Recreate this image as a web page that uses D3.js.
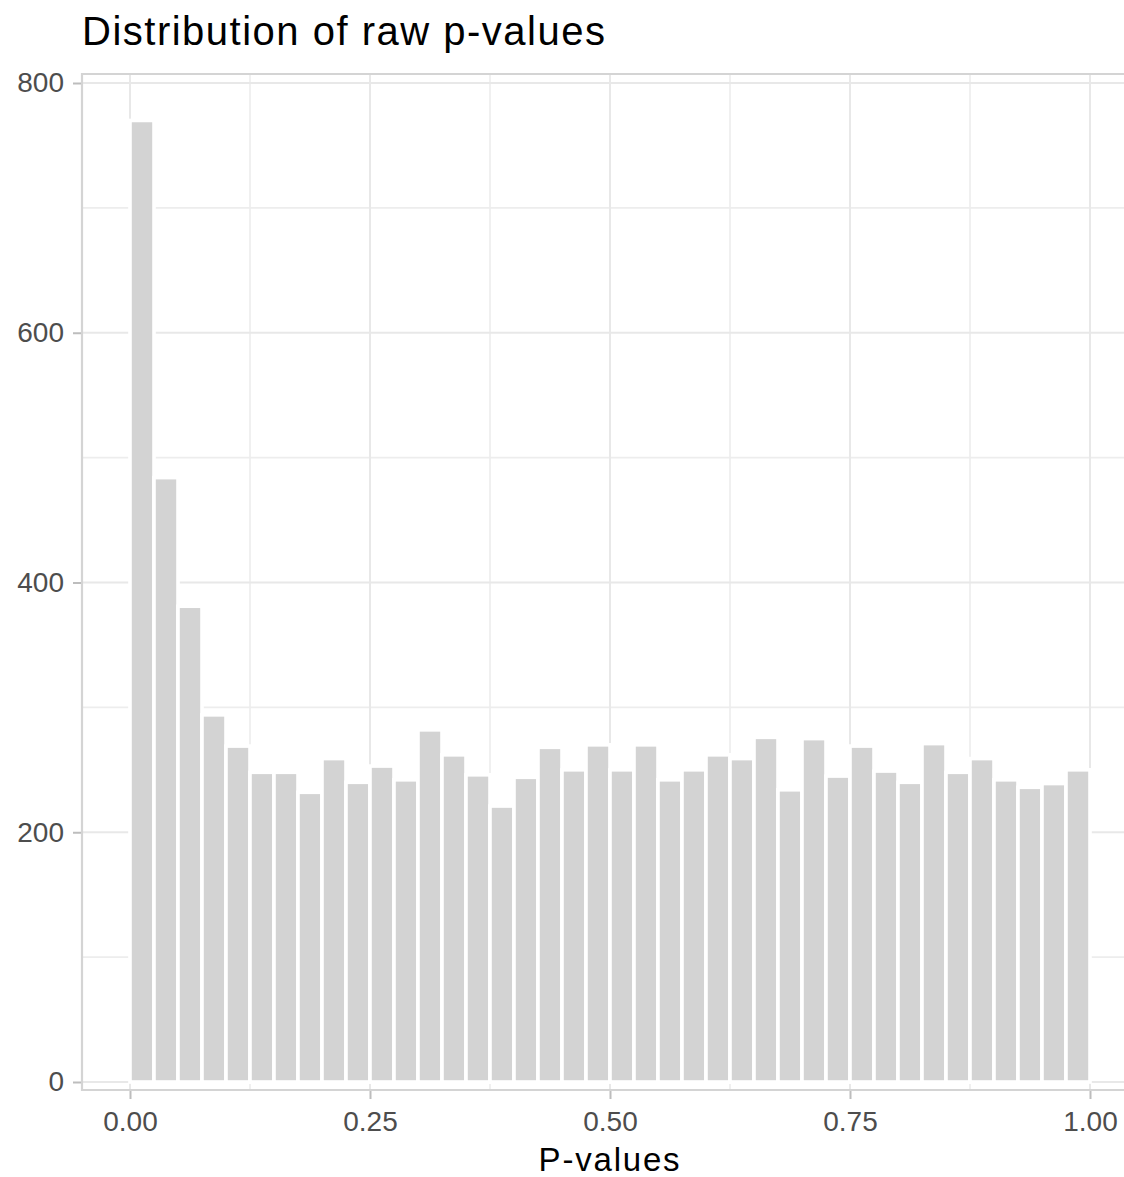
<!DOCTYPE html>
<html>
<head>
<meta charset="utf-8">
<script src="https://d3js.org/d3.v7.min.js"></script>
<style>
  html, body { margin: 0; padding: 0; background: #fff; }
  svg { display: block; font-family: "Liberation Sans", Arial, sans-serif; }
</style>
</head>
<body>
<svg id="chart" width="1124" height="1177"></svg>
<script>
// ---- data ----
const title = "Distribution of raw p-values";
const xLabel = "P-values";
const binWidth = 0.025;
const binStarts = d3.range(40).map(i => +(i * 0.025).toFixed(3));
const counts = [770, 484, 381, 294, 269, 248, 248, 232, 259, 240,
                253, 242, 282, 262, 246, 221, 244, 268, 250, 270,
                250, 270, 242, 250, 262, 259, 276, 234, 275, 245,
                269, 249, 240, 271, 248, 259, 242, 236, 239, 250];
const xMajorTicks = [0, 0.25, 0.5, 0.75, 1];
const xMinorTicks = [0.125, 0.375, 0.625, 0.875];
const yMajorTicks = [0, 200, 400, 600, 800];
const yMinorTicks = [100, 300, 500, 700];

// ---- layout ----
const svg = d3.select("#chart");
const panel = { left: 82, right: 1138, top: 74, bottom: 1090 };

const x = d3.scaleLinear().domain([-0.05, 1.05]).range([panel.left, panel.right]);
const y = d3.scaleLinear().domain([0, 800]).range([1082, 83]);

svg.append("defs").append("clipPath").attr("id", "clip")
  .append("rect")
  .attr("x", panel.left).attr("y", panel.top)
  .attr("width", panel.right - panel.left).attr("height", panel.bottom - panel.top);

const g = svg.append("g").attr("clip-path", "url(#clip)");

// grid
g.selectAll(".hminor").data(yMinorTicks).join("line")
  .attr("x1", panel.left).attr("x2", panel.right)
  .attr("y1", d => y(d)).attr("y2", d => y(d))
  .attr("stroke", "#ededed").attr("stroke-width", 1.6);
g.selectAll(".vminor").data(xMinorTicks).join("line")
  .attr("y1", panel.top).attr("y2", panel.bottom)
  .attr("x1", d => x(d)).attr("x2", d => x(d))
  .attr("stroke", "#ededed").attr("stroke-width", 1.6);
g.selectAll(".hmajor").data(yMajorTicks).join("line")
  .attr("x1", panel.left).attr("x2", panel.right)
  .attr("y1", d => y(d)).attr("y2", d => y(d))
  .attr("stroke", "#e8e8e8").attr("stroke-width", 2);
g.selectAll(".vmajor").data(xMajorTicks).join("line")
  .attr("y1", panel.top).attr("y2", panel.bottom)
  .attr("x1", d => x(d)).attr("x2", d => x(d))
  .attr("stroke", "#e8e8e8").attr("stroke-width", 2);

// bars
g.selectAll("rect.bar").data(counts).join("rect")
  .attr("class", "bar")
  .attr("x", (d, i) => x(binStarts[i]))
  .attr("width", (d, i) => x(binStarts[i] + binWidth) - x(binStarts[i]))
  .attr("y", d => y(d))
  .attr("height", d => y(0) - y(d))
  .attr("fill", "#d3d3d3")
  .attr("stroke", "#ffffff")
  .attr("stroke-width", 3.6);

// axis lines / border
const axisColor = "#d4d4d4";
svg.append("line")
  .attr("x1", panel.left).attr("x2", 1124)
  .attr("y1", panel.top).attr("y2", panel.top)
  .attr("stroke", axisColor).attr("stroke-width", 2.2);
svg.append("line")
  .attr("x1", panel.left).attr("x2", 1124)
  .attr("y1", panel.bottom).attr("y2", panel.bottom)
  .attr("stroke", axisColor).attr("stroke-width", 2.2);
svg.append("line")
  .attr("x1", panel.left).attr("x2", panel.left)
  .attr("y1", panel.top - 1).attr("y2", panel.bottom + 1)
  .attr("stroke", axisColor).attr("stroke-width", 2.2);

// y axis
const yAxis = d3.axisLeft(y).tickValues(yMajorTicks).tickSize(8).tickPadding(9).tickFormat(d3.format("d"));
const yg = svg.append("g").attr("transform", `translate(${panel.left - 1},0)`).call(yAxis);
yg.select(".domain").remove();
yg.selectAll(".tick line").attr("stroke", "#bdbdbd").attr("stroke-width", 2);
yg.selectAll(".tick text").attr("fill", "#4d4d4d").style("font-size", "28px")
  .style("font-family", "'Liberation Sans', Arial, sans-serif");

// x axis
const xAxis = d3.axisBottom(x).tickValues(xMajorTicks).tickSize(8).tickPadding(12).tickFormat(d3.format(".2f"));
const xg = svg.append("g").attr("transform", `translate(0,${panel.bottom + 1})`).call(xAxis);
xg.select(".domain").remove();
xg.selectAll(".tick line").attr("stroke", "#bdbdbd").attr("stroke-width", 2);
xg.selectAll(".tick text").attr("fill", "#4d4d4d").style("font-size", "28px")
  .style("font-family", "'Liberation Sans', Arial, sans-serif");

// titles
svg.append("text")
  .attr("x", 82).attr("y", 45)
  .attr("fill", "#000")
  .style("font-size", "40px")
  .style("letter-spacing", "1.5px")
  .text(title);

svg.append("text")
  .attr("x", x(0.5)).attr("y", 1171)
  .attr("text-anchor", "middle")
  .attr("fill", "#000")
  .style("font-size", "33px")
  .style("letter-spacing", "1.8px")
  .text(xLabel);
</script>
</body>
</html>
